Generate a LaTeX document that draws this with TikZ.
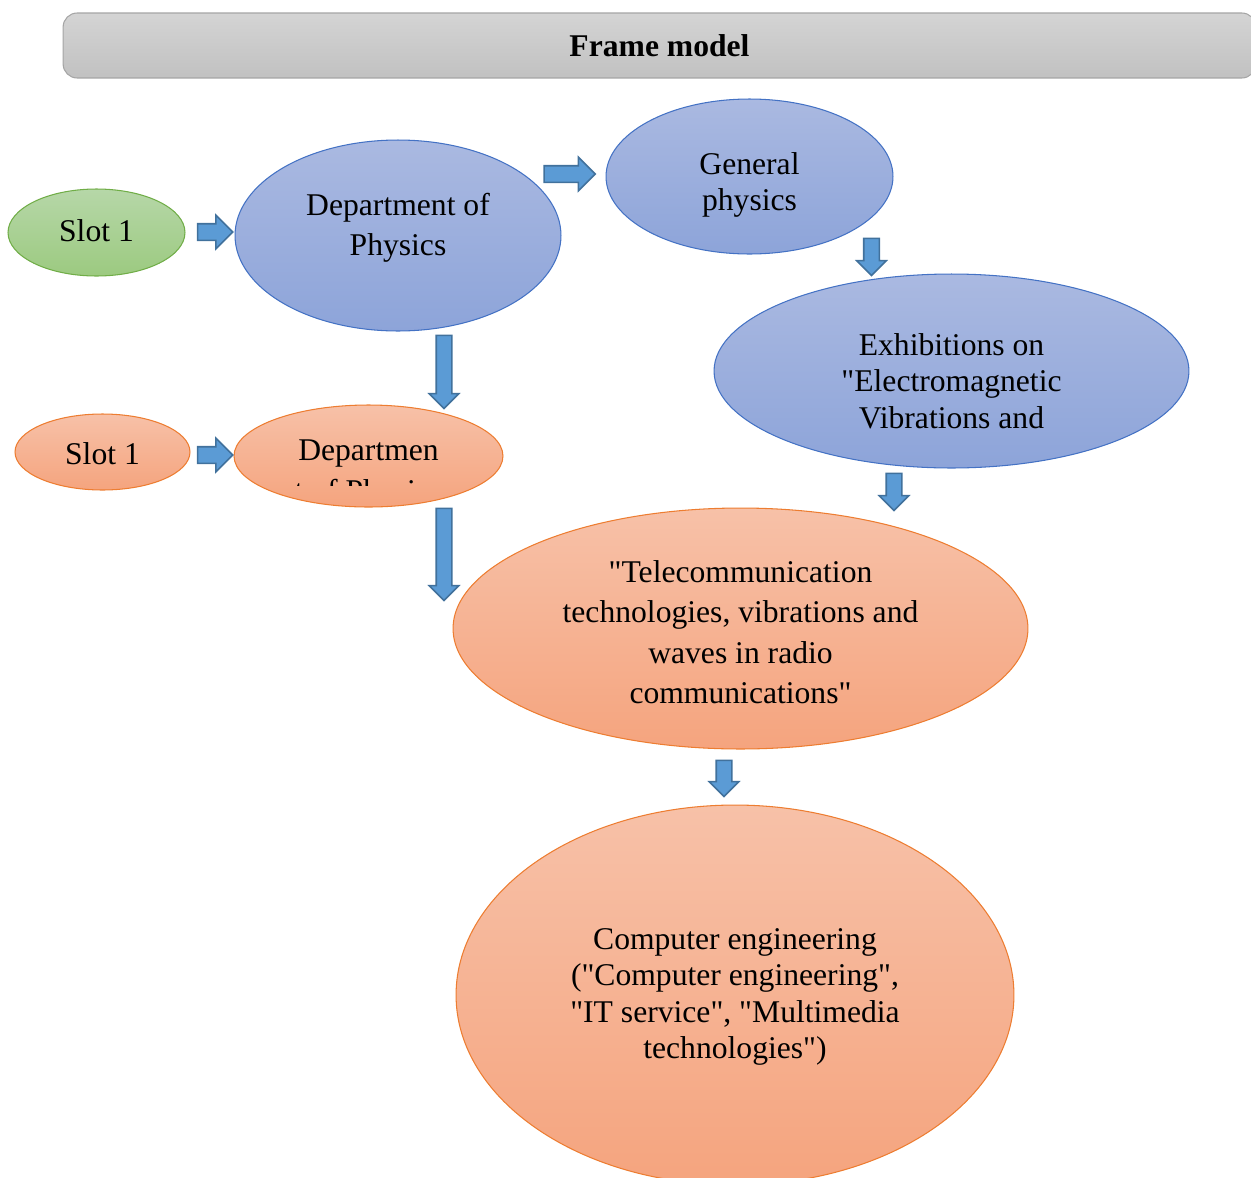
\documentclass[tikz,border=0pt]{standalone}
\usepackage{fontspec}
\setmainfont{Liberation Serif}[Ligatures=TeXOff]
\usetikzlibrary{shapes.geometric,shapes.arrows}

\definecolor{blueTop}{HTML}{AAB9E1}
\definecolor{blueBot}{HTML}{8DA4D9}
\definecolor{blueLine}{HTML}{4472C4}
\definecolor{orTop}{HTML}{F7C1A8}
\definecolor{orBot}{HTML}{F5A47E}
\definecolor{orLine}{HTML}{ED7D31}
\definecolor{grTop}{HTML}{B6D7A8}
\definecolor{grBot}{HTML}{9CCA80}
\definecolor{grLine}{HTML}{70AD47}
\definecolor{arrFill}{HTML}{5B9BD5}
\definecolor{arrLine}{HTML}{41719C}
\definecolor{barTop}{HTML}{D4D4D4}
\definecolor{barBot}{HTML}{C1C1C1}
\definecolor{barLine}{HTML}{A5A5A5}

\tikzset{
  oval/.style={ellipse, inner sep=0pt, line width=0.6pt},
  bluenode/.style={oval, draw=blueLine, top color=blueTop, bottom color=blueBot},
  orangenode/.style={oval, draw=orLine, top color=orTop, bottom color=orBot},
  greennode/.style={oval, draw=grLine, top color=grTop, bottom color=grBot},
  txt/.style={align=center, inner sep=0pt, font=\fontsize{18}{20.7}\selectfont},
  widetxt/.style={txt, font=\fontsize{18}{23}\selectfont},
  blockarr/.style={single arrow, draw=arrLine, fill=arrFill, line width=0.9pt,
    inner sep=0.15cm, single arrow head extend=0.17cm},
  downarr/.style={blockarr, shape border rotate=270, inner sep=0.14cm,
    single arrow head extend=0.14cm},
}

\begin{document}
\begin{tikzpicture}[x=0.02cm, y=-0.02cm]
    \path[use as bounding box, clip] (0,0) rectangle (1251,1177);

    % Title bar
    \node[draw=barLine, top color=barTop, bottom color=barBot, rounded corners=8pt,
      minimum width=23.86cm, minimum height=1.3cm, line width=0.6pt,
      font=\fontsize{18}{20.7}\selectfont\bfseries] (title) at (659.5,45.5) {Frame model};

    % Ovals
    \node[greennode, minimum width=3.54cm, minimum height=1.74cm] (slotA) at (96.5,232.5) {};
    \node[bluenode, minimum width=6.52cm, minimum height=3.82cm] (deptA) at (398,235.5) {};
    \node[bluenode, minimum width=5.74cm, minimum height=3.10cm] (gen) at (749.5,176.5) {};
    \node[bluenode, minimum width=9.50cm, minimum height=3.88cm] (exh) at (951.5,371) {};
    \node[orangenode, minimum width=3.50cm, minimum height=1.52cm] (slotB) at (102.5,452) {};
    \node[orangenode, minimum width=5.38cm, minimum height=2.04cm] (deptB) at (368.5,456) {};
    \node[orangenode, minimum width=11.50cm, minimum height=4.82cm] (tel) at (740.5,628.5) {};
    \node[orangenode, minimum width=11.16cm, minimum height=7.60cm] (comp) at (735,995) {};

    % Texts
    \node[txt, yshift=0.03cm] (slotAtxt) at (slotA) {Slot 1};
    \node[widetxt, yshift=0.16cm] (deptAtxt) at (deptA) {Department of\\Physics};
    \node[txt, yshift=-0.17cm] (gentxt) at (gen) {General\\physics};
    \node[txt, yshift=-0.20cm] (exhtxt) at (exh) {Exhibitions on\\"Electromagnetic\\Vibrations and};
    \node[txt, yshift=-0.04cm] (slotBtxt) at (slotB) {Slot 1};
    \begin{scope}
        \clip (234,405) rectangle (503,485);
        \node[widetxt, yshift=-0.36cm] (deptBtxt) at (deptB) {Departmen\\t of Physics};
    \end{scope}
    \node[widetxt, yshift=-0.07cm] (teltxt) at (tel) {"Telecommunication\\technologies, vibrations and\\waves in radio\\communications"};
    \node[txt, yshift=-0.04cm] (comptxt) at (comp) {Computer engineering\\("Computer engineering",\\"IT service", "Multimedia\\technologies")};

    % Block arrows
    \node[blockarr, minimum height=0.70cm] (a1) at (211,232) {};
    \node[blockarr, minimum height=1.02cm] (a2) at (565.5,174) {};
    \node[downarr, minimum height=0.74cm] (a3) at (871.5,253) {};
    \node[downarr, minimum height=1.46cm] (a4) at (444,368) {};
    \node[downarr, minimum height=0.74cm] (a5) at (894,488) {};
    \node[blockarr, minimum height=0.70cm] (a6) at (211,455) {};
    \node[downarr, minimum height=1.84cm] (a7) at (444,550.5) {};
    \node[downarr, minimum height=0.72cm] (a8) at (724,774.5) {};
\end{tikzpicture}
\end{document}
